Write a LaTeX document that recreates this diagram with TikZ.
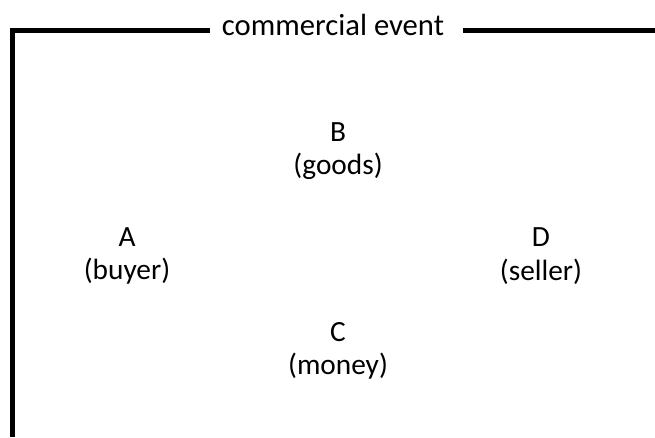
\documentclass[tikz,border=0pt]{standalone}
\usepackage{fontspec}
\setmainfont{Carlito}
\usetikzlibrary{positioning}
\newcommand{\drawf}{\draw[line width=3.6pt]}

\begin{document}
\begin{tikzpicture}[x=0.75pt,y=-0.75pt,
  every node/.style={font=\fontsize{22pt}{25pt}\selectfont, align=center, inner sep=0pt}]
\useasboundingbox (0,0) rectangle (655,437);
% Vẽ khung
\coordinate (tl) at (12.5,30.5);
\coordinate (tr) at (655,30.5);
\coordinate (bl) at (12.5,437);
\node[anchor=base, font=\fontsize{23pt}{26pt}\selectfont] (title) at (333,35) {commercial event};
\coordinate[xshift=-9pt] (gl) at (title.west |- tl);
\coordinate[xshift=14pt] (gr) at (title.east |- tr);
\drawf (gl) -- (tl) -- (bl);
\drawf (gr) -- (tr);

% Các bên
\node (A) at (127,256) {A\\(buyer)};
\node (B) at (338,151) {B\\(goods)};
\node (C) at (338,351) {C\\(money)};
\node (D) at (541,256) {D\\(seller)};

\end{tikzpicture}
\end{document}
